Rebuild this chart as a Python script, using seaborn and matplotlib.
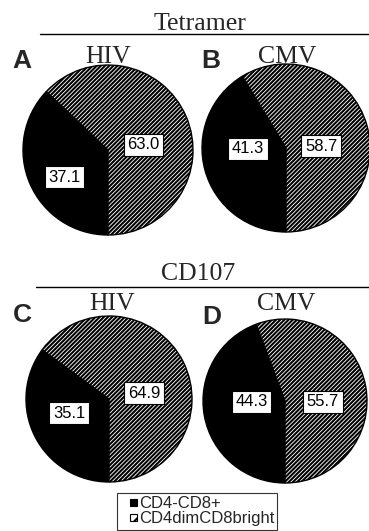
import matplotlib
matplotlib.use("Agg")
import matplotlib.pyplot as plt
from matplotlib.patches import Patch, Rectangle
from matplotlib.lines import Line2D
from matplotlib.legend_handler import HandlerPatch
import seaborn as sns

# ---- data ----
panel_letters = ["A", "B", "C", "D"]
virus_labels = ["HIV", "CMV", "HIV", "CMV"]
group_titles = ["Tetramer", "CD107"]
series_names = ["CD4-CD8+", "CD4dimCD8bright"]
cd4neg_cd8pos = [37.1, 41.3, 35.1, 44.3]
cd4dim_cd8bright = [63.0, 58.7, 64.9, 55.7]

sns.set_theme(style="white")
plt.rcParams["hatch.linewidth"] = 1.5
PIE_HATCH = "////////"

W, H = 369, 531
fig = plt.figure(figsize=(W / 100, H / 100), dpi=100)
fig.patch.set_facecolor("white")

# ---- layout (pixels, y from top) ----
pie_layout = [(108, 150, 85), (286, 148, 84), (109, 399, 83), (285, 401, 82)]
# label positions in pie-radius units (x right, y up)
label_pos = [
    [(-0.51, -0.32), (0.42, 0.06)],
    [(-0.45, -0.01), (0.42, 0.02)],
    [(-0.48, -0.17), (0.42, 0.07)],
    [(-0.41, -0.01), (0.46, -0.01)],
]
letter_pos = [(22, 68), (211, 68), (22, 322), (212, 324)]
virus_pos = [(108, 63), (287, 63), (112, 310), (286, 310)]
title_pos = [(200, 30), (198, 280)]
rule_pos = [(40, 34), (36, 287)]

serif = ["Liberation Serif", "DejaVu Serif"]
sans = ["Liberation Sans", "DejaVu Sans"]

for i in range(4):
    cx, cy, r = pie_layout[i]
    ax = fig.add_axes([(cx - r) / W, 1 - (cy + r) / H, 2 * r / W, 2 * r / H])
    vals = [cd4neg_cd8pos[i], cd4dim_cd8bright[i]]
    wedges, _ = ax.pie(vals, startangle=270, counterclock=False,
                       colors=["black", "white"],
                       wedgeprops=dict(edgecolor="black", linewidth=1.0, clip_on=False))
    wedges[1].set_hatch(PIE_HATCH)
    ax.set_xlim(-1, 1)
    ax.set_ylim(-1, 1)
    ax.set_aspect("equal")
    ax.axis("off")
    for j, v in enumerate(vals):
        x, y = label_pos[i][j]
        ax.text(x, y, f"{v:.1f}", ha="center", va="center", fontsize=12,
                family=sans, color="black",
                bbox=dict(boxstyle="square,pad=0.22", facecolor="white",
                          edgecolor="black", linewidth=0.8))

for i in range(4):
    x, y = letter_pos[i]
    fig.text(x / W, 1 - y / H, panel_letters[i], ha="center", va="baseline",
             fontsize=19, fontweight="bold", family=sans)
    x, y = virus_pos[i]
    fig.text(x / W, 1 - y / H, virus_labels[i], ha="center", va="baseline",
             fontsize=18.5, family=serif)

for k in range(2):
    x, y = title_pos[k]
    fig.text(x / W, 1 - y / H, group_titles[k], ha="center", va="baseline",
             fontsize=18.5, family=serif)
    x0, y0 = rule_pos[k]
    fig.add_artist(Line2D([x0 / W, 1.0], [1 - y0 / H, 1 - y0 / H],
                          transform=fig.transFigure, color="black", linewidth=1.0))


def small_square(legend, orig_handle, xdescent, ydescent, width, height, fontsize):
    s = 0.45 * fontsize
    return Rectangle((-xdescent + width - s, -ydescent + (height - s) / 2), s, s)


handles = [Patch(facecolor="black", edgecolor="black", linewidth=0.8),
           Patch(facecolor="white", edgecolor="black", hatch="///", linewidth=0.8)]
leg = fig.legend(handles, series_names, loc="upper left",
                 bbox_to_anchor=(117 / W, 1 - 493 / H),
                 frameon=True, fancybox=False, edgecolor="black",
                 fontsize=12, handlelength=1.0, handleheight=0.7,
                 handletextpad=0.1, borderpad=0.2, labelspacing=0.0,
                 borderaxespad=0,
                 handler_map={Patch: HandlerPatch(patch_func=small_square)})
leg.get_frame().set_linewidth(0.8)
for t in leg.get_texts():
    t.set_family(sans)

fig.savefig("out.png", dpi=100, facecolor="white")
